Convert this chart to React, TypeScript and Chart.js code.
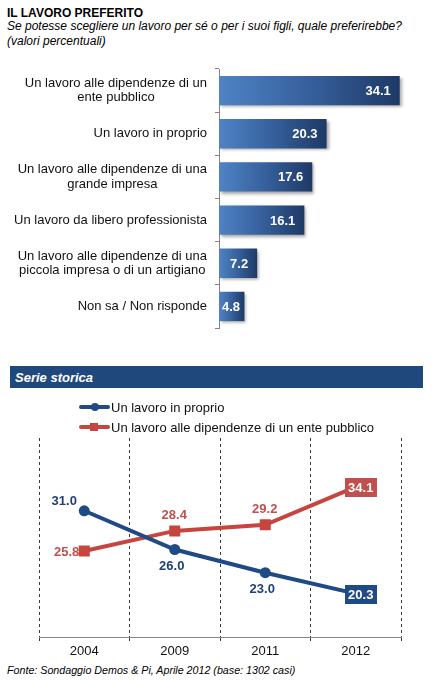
import React, { useEffect, useRef } from "react";
import { Chart, registerables } from "chart.js";

Chart.register(...registerables);

const FONT = "'Liberation Sans', Arial, sans-serif";

// ---- Data: bar chart ----
const barCategories: string[][] = [
  ["Un lavoro alle dipendenze di un", "ente pubblico"],
  ["Un lavoro in proprio"],
  ["Un lavoro alle dipendenze di una", "grande impresa"],
  ["Un lavoro da libero professionista"],
  ["Un lavoro alle dipendenze di una", "piccola impresa o di un artigiano"],
  ["Non sa / Non risponde"],
];
const barValues: number[] = [34.1, 20.3, 17.6, 16.1, 7.2, 4.8];

// ---- Data: time series ----
const years: string[] = ["2004", "2009", "2011", "2012"];
const seriesNames: string[] = [
  "Un lavoro in proprio",
  "Un lavoro alle dipendenze di un ente pubblico",
];
const inProprioValues: number[] = [31.0, 26.0, 23.0, 20.3];
const entePubblicoValues: number[] = [25.8, 28.4, 29.2, 34.1];

// label placement styles for the line chart
const labelPlacements: string[][] = [
  ["upleft", "below", "below", "box"],
  ["left", "above", "above", "box"],
];

const BLUE = "#1f4a86";
const BLUE_TEXT = "#1f3f78";
const RED = "#c6463f";
const RED_TEXT = "#c0504d";

const barLabelsPlugin = {
  id: "barLabels",
  afterDraw(chart: any) {
    const ctx = chart.ctx;
    const y = chart.scales.y;
    ctx.save();
    ctx.font = `13px ${FONT}`;
    ctx.fillStyle = "#111";
    ctx.textBaseline = "middle";
    ctx.textAlign = "center";
    const right = y.right - 12;
    barCategories.forEach((lines, i) => {
      const cy = y.getPixelForValue(i);
      const w = Math.max(...lines.map((l) => ctx.measureText(l).width));
      const cx = right - w / 2;
      const lh = 14.5;
      lines.forEach((l, j) => {
        ctx.fillText(l, cx, cy + (j - (lines.length - 1) / 2) * lh);
      });
    });
    ctx.font = `bold 13px ${FONT}`;
    ctx.fillStyle = "#ffffff";
    ctx.textAlign = "left";
    const meta = chart.getDatasetMeta(0);
    meta.data.forEach((bar: any, i: number) => {
      const text = barValues[i].toFixed(1);
      const w = ctx.measureText(text).width;
      let tx = bar.x - 9 - w;
      if (tx < bar.base + 3) tx = bar.base + 3;
      ctx.fillText(text, tx, bar.y + 1);
    });
    ctx.restore();
  },
};

const barShadowPlugin = {
  id: "barShadow",
  beforeDatasetsDraw(chart: any) {
    const c = chart.ctx;
    c.save();
    c.shadowColor = "rgba(0,0,0,0.35)";
    c.shadowBlur = 3;
    c.shadowOffsetX = 2;
    c.shadowOffsetY = 2;
  },
  afterDatasetsDraw(chart: any) {
    chart.ctx.restore();
  },
};

const lineLabelsPlugin = {
  id: "lineLabels",
  afterDatasetsDraw(chart: any) {
    const ctx = chart.ctx;
    ctx.save();
    ctx.font = `bold 13px ${FONT}`;
    ctx.textBaseline = "middle";
    chart.data.datasets.forEach((ds: any, di: number) => {
      const meta = chart.getDatasetMeta(di);
      const textColor = di === 0 ? BLUE_TEXT : RED_TEXT;
      const boxColor = di === 0 ? BLUE : RED_TEXT;
      meta.data.forEach((pt: any, i: number) => {
        const text = (ds.data[i] as number).toFixed(1);
        const place = labelPlacements[di][i];
        const w = ctx.measureText(text).width;
        ctx.fillStyle = textColor;
        if (place === "upleft") {
          ctx.textAlign = "center";
          ctx.fillText(text, pt.x - 20, pt.y - 9);
        } else if (place === "left") {
          ctx.textAlign = "right";
          ctx.fillText(text, pt.x - 5, pt.y + 1);
        } else if (place === "below") {
          ctx.textAlign = "center";
          ctx.fillText(text, pt.x - 3, pt.y + 17);
        } else if (place === "above") {
          ctx.textAlign = "center";
          ctx.fillText(text, pt.x - 0.5, pt.y - 15);
        } else if (place === "box") {
          const bw = w + 7;
          const bh = 19;
          const cx = pt.x + 5;
          const cy = pt.y + 1;
          ctx.fillStyle = boxColor;
          ctx.fillRect(Math.round(cx - bw / 2), Math.round(cy - bh / 2), Math.round(bw), bh);
          ctx.fillStyle = "#ffffff";
          ctx.textAlign = "center";
          ctx.fillText(text, cx, cy + 0.5);
        }
      });
    });
    ctx.restore();
  },
  afterDraw(chart: any) {
    // legend
    const ctx = chart.ctx;
    ctx.save();
    chart.data.datasets.forEach((ds: any, di: number) => {
      const y = 12 + di * 20;
      ctx.strokeStyle = ds.borderColor;
      ctx.lineWidth = 4;
      ctx.lineCap = "round";
      ctx.beginPath();
      ctx.moveTo(81, y);
      ctx.lineTo(108, y);
      ctx.stroke();
      ctx.fillStyle = ds.borderColor;
      if (di === 0) {
        ctx.beginPath();
        ctx.arc(95, y, 4, 0, Math.PI * 2);
        ctx.fill();
      } else {
        ctx.fillRect(90, y - 4, 8, 8);
      }
      ctx.fillStyle = "#111";
      ctx.font = `13px ${FONT}`;
      ctx.textAlign = "left";
      ctx.textBaseline = "middle";
      ctx.fillText(ds.label, 111, y + 1);
    });
    ctx.restore();
  },
};

export default function App() {
  const barRef = useRef<HTMLCanvasElement | null>(null);
  const lineRef = useRef<HTMLCanvasElement | null>(null);

  useEffect(() => {
    if (!barRef.current || !lineRef.current) return;

    const barChart = new Chart(barRef.current, {
      type: "bar",
      data: {
        labels: barCategories.map((l) => l.join(" ")),
        datasets: [
          {
            data: barValues,
            backgroundColor: (c: any) => {
              const chart = c.chart;
              const xs = chart.scales.x;
              if (!xs || !chart.chartArea) return "#2f5592";
              const x0 = xs.getPixelForValue(0);
              const x1 = xs.getPixelForValue(c.raw ?? 1);
              const g = chart.ctx.createLinearGradient(x0, 0, Math.max(x1, x0 + 1), 0);
              g.addColorStop(0, "#4f83c4");
              g.addColorStop(0.5, "#36609c");
              g.addColorStop(1, "#1e3966");
              return g;
            },
            borderWidth: 0,
            barPercentage: 0.68,
            categoryPercentage: 1,
          },
        ],
      },
      options: {
        indexAxis: "y",
        animation: false,
        responsive: false,
        events: [],
        layout: { padding: { top: 14, bottom: 12, left: 0, right: 2 } },
        plugins: { legend: { display: false }, tooltip: { enabled: false } },
        scales: {
          x: { display: false, min: 0, max: 40 },
          y: {
            type: "category",
            offset: true,
            grid: {
              display: true,
              drawOnChartArea: false,
              drawTicks: true,
              tickLength: 4,
              offset: true,
              color: "#868686",
            },
            border: { display: true, color: "#868686" },
            ticks: { display: false },
            afterFit: (s: any) => {
              s.width = 219;
            },
          },
        },
      },
      plugins: [barShadowPlugin, barLabelsPlugin],
    } as any);

    const lineChart = new Chart(lineRef.current, {
      type: "line",
      data: {
        labels: years,
        datasets: [
          {
            label: seriesNames[0],
            data: inProprioValues,
            borderColor: BLUE,
            backgroundColor: BLUE,
            borderWidth: 4,
            pointStyle: "circle",
            pointRadius: 5.5,
            pointBorderWidth: 0,
            pointBackgroundColor: BLUE,
            tension: 0,
          },
          {
            label: seriesNames[1],
            data: entePubblicoValues,
            borderColor: RED,
            backgroundColor: RED,
            borderWidth: 4,
            pointStyle: "rect",
            pointRadius: 7.8,
            pointBorderWidth: 0,
            pointBackgroundColor: RED,
            tension: 0,
          },
        ],
      },
      options: {
        animation: false,
        responsive: false,
        events: [],
        layout: { padding: { top: 43, left: 39, right: 32, bottom: 0 } },
        plugins: { legend: { display: false }, tooltip: { enabled: false } },
        scales: {
          x: {
            type: "category",
            offset: true,
            grid: {
              display: true,
              offset: true,
              color: "#3a3a3a",
              lineWidth: 1,
              drawTicks: true,
              tickLength: 4,
            },
            border: { display: true, color: "#868686", dash: [3, 3] },
            ticks: { font: { family: FONT, size: 13 }, color: "#111", padding: 3 },
            afterFit: (s: any) => {
              s.height = 23;
            },
          },
          y: { display: false, min: 14.7, max: 40.4 },
        },
      },
      plugins: [lineLabelsPlugin],
    } as any);

    return () => {
      barChart.destroy();
      lineChart.destroy();
    };
  }, []);

  return (
    <div
      style={{
        position: "absolute",
        left: 0,
        top: 0,
        width: 433,
        height: 680,
        background: "#ffffff",
        fontFamily: FONT,
        color: "#000",
        overflow: "hidden",
      }}
    >
      <div
        style={{
          position: "absolute",
          left: 7,
          top: 6,
          fontWeight: "bold",
          fontSize: 12,
          lineHeight: "14px",
          whiteSpace: "nowrap",
        }}
      >
        IL LAVORO PREFERITO
      </div>
      <div
        style={{
          position: "absolute",
          left: 7,
          top: 19,
          fontStyle: "italic",
          fontSize: 12,
          lineHeight: "14.5px",
          whiteSpace: "nowrap",
        }}
      >
        Se potesse scegliere un lavoro per sé o per i suoi figli, quale preferirebbe?
        <br />
        (valori percentuali)
      </div>
      <canvas
        ref={barRef}
        width={433}
        height={285}
        style={{ position: "absolute", left: 0, top: 55, width: 433, height: 285 }}
      />
      <div
        style={{
          position: "absolute",
          left: 10,
          top: 366,
          width: 413,
          height: 22,
          background: "#1f497d",
          color: "#ffffff",
          fontWeight: "bold",
          fontStyle: "italic",
          fontSize: 13,
          lineHeight: "22px",
          paddingLeft: 5,
          paddingTop: 1,
          boxSizing: "border-box",
          whiteSpace: "nowrap",
        }}
      >
        Serie storica
      </div>
      <canvas
        ref={lineRef}
        width={433}
        height={265}
        style={{ position: "absolute", left: 0, top: 395, width: 433, height: 265 }}
      />
      <div
        style={{
          position: "absolute",
          left: 7,
          top: 664,
          fontStyle: "italic",
          fontSize: 10.7,
          whiteSpace: "nowrap",
        }}
      >
        Fonte: Sondaggio Demos &amp; Pi, Aprile 2012 (base: 1302 casi)
      </div>
    </div>
  );
}
